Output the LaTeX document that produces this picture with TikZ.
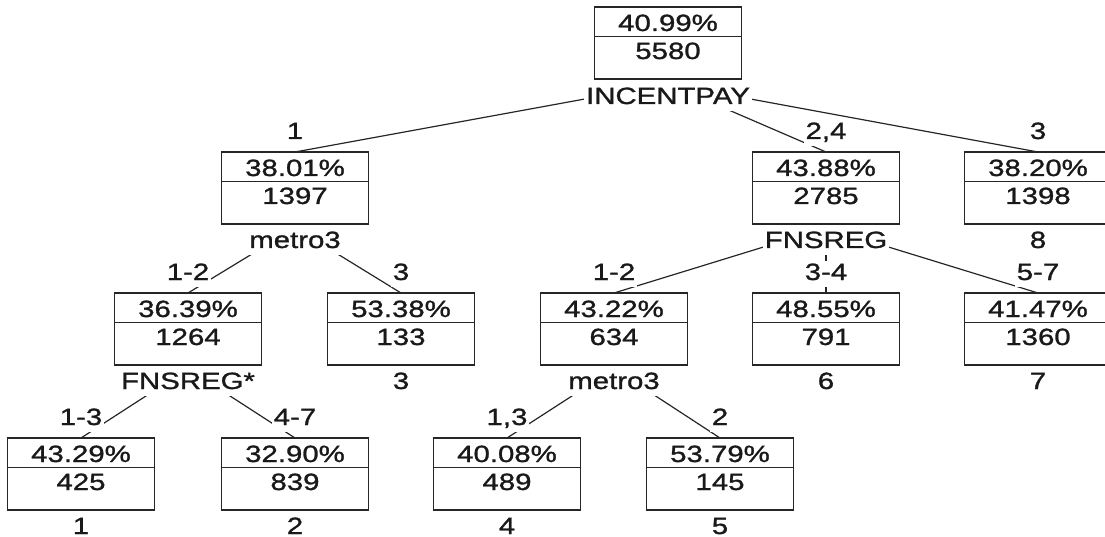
\documentclass[tikz,border=0pt]{standalone}
\usepackage{fontspec}
\setmainfont{Liberation Sans}[FakeStretch=1.25, FakeBold=1.2]
\usetikzlibrary{backgrounds}

\tikzset{
  pbox/.style={draw=black!85, line width=1.2pt, minimum width=146.5pt, minimum height=72pt,
    inner sep=0pt, outer sep=0pt, anchor=north},
  txt/.style={anchor=base, inner sep=0pt, text=black!90},
  splitlab/.style={anchor=base, fill=white, inner xsep=2pt, inner ysep=2pt,
    text height=21pt, text depth=5pt, text=black!90},
  edgelab/.style={anchor=base, fill=white, inner xsep=2pt, inner ysep=2pt,
    text height=17pt, text depth=5pt, text=black!90},
  branch/.style={draw=black!85, line width=1.2pt},
}

% box with share on top and count below
\newcommand{\probbox}[5]{%
  \node[pbox] (#1) at (#2,#3) {};
  \draw[branch] ([yshift=-29.5pt]#1.north west) -- ([yshift=-29.5pt]#1.north east);
  \node[txt] at ([yshift=-24pt]#1.north) {#4};
  \node[txt] at ([yshift=-52pt]#1.north) {#5};
}

\begin{document}
\begin{tikzpicture}[x=1pt, y=-1pt, font=\fontsize{23.5}{28}\selectfont]
    \useasboundingbox (0,0) rectangle (1105,537);
    \probbox{n0}{668}{7}{40.99\%}{5580}
    \probbox{n1}{295}{152}{38.01\%}{1397}
    \probbox{n2}{826}{152}{43.88\%}{2785}
    \probbox{n3}{1038}{152}{38.20\%}{1398}
    \probbox{n4}{188}{293}{36.39\%}{1264}
    \probbox{n5}{401}{293}{53.38\%}{133}
    \probbox{n8}{614}{293}{43.22\%}{634}
    \probbox{n9}{826}{293}{48.55\%}{791}
    \probbox{n10}{1038}{293}{41.47\%}{1360}
    \probbox{n6}{81}{438}{43.29\%}{425}
    \probbox{n7}{295}{438}{32.90\%}{839}
    \probbox{n11}{507}{438}{40.08\%}{489}
    \probbox{n12}{720}{438}{53.79\%}{145}
    % split variables and terminal numbers
    \node[splitlab] (s0) at (668,104) {INCENTPAY};
    \node[splitlab] (s1) at (295,248) {metro3};
    \node[splitlab] (s2) at (826,248) {FNSREG};
    \node[splitlab] (t8) at (1038,248) {8};
    \node[splitlab] (s4) at (188,389) {FNSREG*};
    \node[splitlab] (t3) at (401,389) {3};
    \node[splitlab] (s8) at (614,389) {metro3};
    \node[splitlab] (t6) at (826,389) {6};
    \node[splitlab] (t7) at (1038,389) {7};
    \node[splitlab] (t1) at (81,534) {1};
    \node[splitlab] (t2) at (295,534) {2};
    \node[splitlab] (t4) at (507,534) {4};
    \node[splitlab] (t5) at (720,534) {5};
    % branch labels
    \node[edgelab] (e1) at (295,139) {1};
    \node[edgelab] (e2) at (826,139) {2,4};
    \node[edgelab] (e3) at (1038,139) {3};
    \node[edgelab] (e4) at (188,280) {1-2};
    \node[edgelab] (e5) at (401,280) {3};
    \node[edgelab] (e8) at (614,280) {1-2};
    \node[edgelab] (e9) at (826,280) {3-4};
    \node[edgelab] (e10) at (1038,280) {5-7};
    \node[edgelab] (e6) at (81,425) {1-3};
    \node[edgelab] (e7) at (295,425) {4-7};
    \node[edgelab] (e11) at (507,425) {1,3};
    \node[edgelab] (e12) at (720,425) {2};
    \begin{pgfonlayer}{background}
      \draw[branch] ([yshift=-3pt]s0.north) -- (n1.north);
      \draw[branch] ([yshift=-3pt]s0.north) -- (n2.north);
      \draw[branch] ([yshift=-3pt]s0.north) -- (n3.north);
      \draw[branch] ([yshift=-3pt]s1.north) -- (n4.north);
      \draw[branch] ([yshift=-3pt]s1.north) -- (n5.north);
      \draw[branch] ([yshift=-3pt]s4.north) -- (n6.north);
      \draw[branch] ([yshift=-3pt]s4.north) -- (n7.north);
      \draw[branch] ([yshift=-3pt]s2.north) -- (n8.north);
      \draw[branch] ([yshift=-3pt]s2.north) -- (n9.north);
      \draw[branch] ([yshift=-3pt]s2.north) -- (n10.north);
      \draw[branch] ([yshift=-3pt]s8.north) -- (n11.north);
      \draw[branch] ([yshift=-3pt]s8.north) -- (n12.north);
    \end{pgfonlayer}
\end{tikzpicture}
\end{document}
